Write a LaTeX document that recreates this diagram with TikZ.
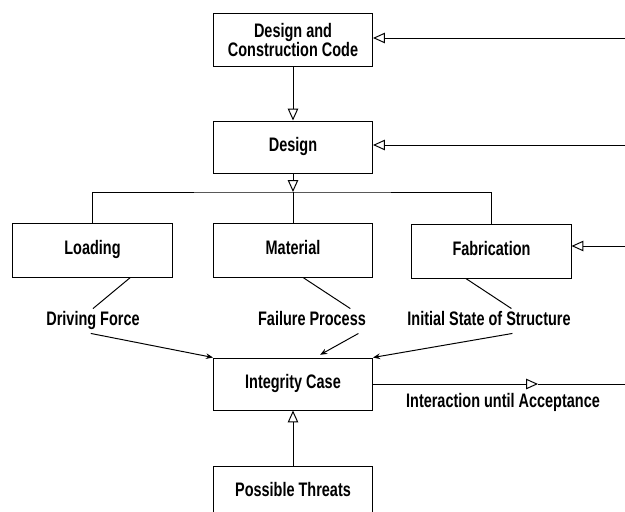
\documentclass[tikz,border=0pt]{standalone}
\usepackage{fontspec}
\setmainfont{Liberation Sans}[FakeStretch=0.74]
\usetikzlibrary{arrows.meta}

\begin{document}
\begin{tikzpicture}[x=0.025cm, y=-0.025cm, line width=0.7pt,
        every node/.style={font=\bfseries\fontsize{13.9}{14.2}\selectfont},
        box/.style={draw, minimum width=3.975cm, minimum height=1.3cm, text height=10pt, text depth=3pt},
        tag/.style={inner sep=2pt, text height=10pt, text depth=3pt},
        opentip/.style={-{Triangle[open, length=8.5pt, width=7.5pt]}},
        pointer/.style={-{Stealth[length=5pt, width=4pt]}}]

        \useasboundingbox (0,0) rectangle (625,512);
        \clip (0,0) rectangle (625,512);

        \node[draw, minimum width=3.975cm, minimum height=1.3cm, align=center] (code) at (293,40) {Design and\\Construction Code};
        \node[box] (design) at (293,147) {Design};
        \node[box, minimum height=1.35cm] (loading) at (92.5,250) {Loading};
        \node[box, minimum height=1.35cm] (material) at (293,250) {Material};
        \node[box, minimum height=1.35cm] (fabrication) at (491.5,251) {Fabrication};
        \node[box] (integrity) at (293,384) {Integrity Case};
        \node[box] (threats) at (293,492) {Possible Threats};

        \node[tag] (driving) at (93,321) {Driving Force};
        \node[tag] (failure) at (312,321) {Failure Process};
        \node[tag] (initial) at (489,321) {Initial State of Structure};
        \node[tag] (interaction) at (503,403) {Interaction until Acceptance};

        \coordinate (split) at (293,192);
        \coordinate (fbcode) at (625,38);
        \coordinate (fbdesign) at (625,145);
        \coordinate (fbfab) at (625,246);
        \coordinate (accept) at (538,384);
        \coordinate (fbint) at (625,384);

        \draw[opentip] (code.south) -- (design.north);
        \draw[opentip] (design.south) -- (split);
        \draw (loading.north) |- (split) -| (fabrication.north);
        \draw (split) -- (material.north);

        \draw[opentip] (fbcode) -- (fbcode -| code.east);
        \draw[opentip] (fbdesign) -- (fbdesign -| design.east);
        \draw[opentip] (fbfab) -- (fbfab -| fabrication.east);

        \draw (loading.-36) -- (driving.north);
        \draw (material.-70) -- (failure.18);
        \draw (fabrication.-133) -- (initial.29);

        \draw[pointer] (driving.-100) -- (integrity.north west);
        \draw[pointer, shorten >=4pt] (failure.-15) -- (integrity.50);
        \draw[pointer] (initial.-28) -- (integrity.north east);

        \draw[opentip] (integrity.east) -- (accept);
        \draw (accept) -- (fbint);
        \draw[opentip] (threats.north) -- (integrity.south);

\end{tikzpicture}
\end{document}
